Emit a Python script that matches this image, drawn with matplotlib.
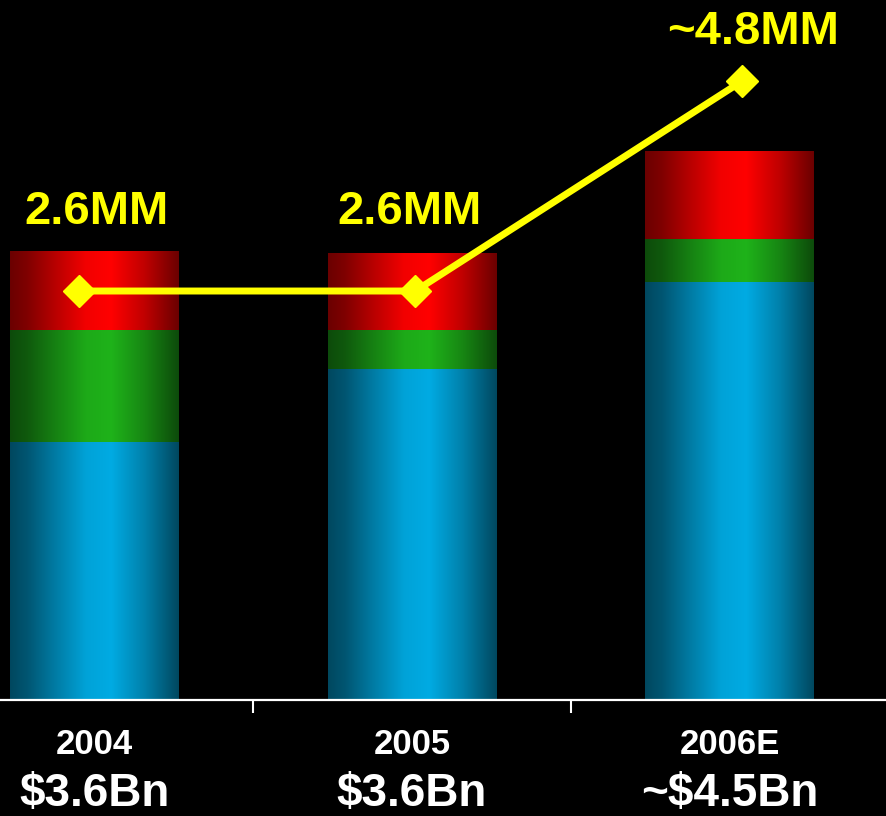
import numpy as np
import matplotlib.pyplot as plt

# Revenue split per year (in $Bn) and unit volume (in millions)
years = ["2004", "2005", "2006E"]
revenue_labels = ["$3.6Bn", "$3.6Bn", "~$4.5Bn"]
blue_seg = [2.07, 2.66, 3.35]
green_seg = [0.90, 0.31, 0.35]
red_seg = [0.62, 0.60, 0.69]
units_mm = [2.6, 2.6, 4.8]
units_labels = ["2.6MM", "2.6MM", "~4.8MM"]

plt.rcParams['font.family'] = ['Liberation Sans', 'DejaVu Sans']
plt.rcParams['font.weight'] = 'bold'

YELLOW = '#ffff00'
seg_colors = {'blue': (0.0, 0.67, 0.89), 'green': (0.12, 0.70, 0.10), 'red': (1.0, 0.0, 0.0)}

# layout tweaks
marker_nudge = [-0.05, 0.01, 0.04]
label_offsets = [(13, 48), (-4, 48), (8, 27)]

fig = plt.figure(figsize=(8.86, 8.16), dpi=100, facecolor='black')
ax = fig.add_axes([0, 116 / 816, 1, 700 / 816])
ax.set_facecolor('black')

x = np.arange(len(years))
bar_w = 0.532


def cylinder(color, n=256):
    # dark edges, bright band a little right of centre
    t = np.linspace(0, 1, n)
    b = np.interp(t, [0, 0.1, 0.25, 0.45, 0.6, 0.8, 0.92, 1],
                  [0.42, 0.5, 0.7, 0.95, 1.0, 0.75, 0.55, 0.42])
    return np.array(color)[None, None, :] * b[None, :, None]


bottom = np.zeros(len(years))
for vals, key in [(blue_seg, 'blue'), (green_seg, 'green'), (red_seg, 'red')]:
    bars = ax.bar(x, vals, bar_w, bottom=bottom, facecolor='none', edgecolor='none')
    for p in bars:
        x0, y0 = p.get_x(), p.get_y()
        # overlap slightly with the segment below so no seam shows
        lo = y0 - 0.01 if y0 > 0 else y0
        ax.imshow(cylinder(seg_colors[key]), extent=(x0, x0 + p.get_width(), lo, y0 + p.get_height()),
                  aspect='auto', interpolation='bilinear', zorder=1)
    bottom += np.array(vals)

ax.set_xlim(-0.298, 2.493)
ax.set_ylim(0, 5.6)

for s in ['top', 'left', 'right']:
    ax.spines[s].set_visible(False)
ax.spines['bottom'].set_color('white')
ax.spines['bottom'].set_linewidth(1.6)
ax.spines['bottom'].set_zorder(3)
ax.set_yticks([])
ax.set_xticks([])
ax.set_xticks([0.5, 1.5], minor=True)
ax.tick_params(axis='x', which='minor', direction='out', length=9.5, width=1.5, color='white')

# category labels under the axis
for xi, yr, rev in zip(x, years, revenue_labels):
    ax.text(xi, -0.077, yr, transform=ax.get_xaxis_transform(), ha='center', va='baseline',
            color='white', fontsize=25, fontweight='bold')
    ax.text(xi, -0.151, rev, transform=ax.get_xaxis_transform(), ha='center', va='baseline',
            color='white', fontsize=33, fontweight='bold')

# unit volume line on its own scale
ax2 = ax.twinx()
ax2.set_ylim(-1.685, 5.649)
ax2.axis('off')
lx = x + np.array(marker_nudge)
ax2.plot(lx, units_mm, color=YELLOW, lw=5, marker='D', ms=16, zorder=5)
for xi, v, lbl, off in zip(lx, units_mm, units_labels, label_offsets):
    ax2.annotate(lbl, (xi, v), xytext=off, textcoords='offset points', ha='center', va='baseline',
                 color=YELLOW, fontsize=34, fontweight='bold')

fig.savefig('out.png', dpi=100, facecolor='black')
